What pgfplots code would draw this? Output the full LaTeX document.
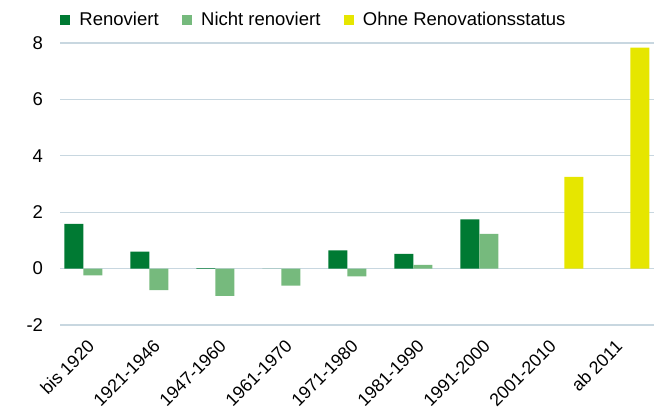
\documentclass[border=0pt]{standalone}
\usepackage{pgfplots}
\pgfplotsset{compat=1.18}
\usepackage{fontspec}
\setmainfont{Liberation Sans}

\definecolor{renov}{RGB}{0,122,51}
\definecolor{nichtrenov}{RGB}{118,186,125}
\definecolor{ohne}{RGB}{230,230,0}
\definecolor{gridc}{RGB}{200,215,224}

\begin{document}
\begin{tikzpicture}[x=0.6pt,y=0.6pt]
  \begin{axis}[
      at={(0,0)}, anchor=south west,
      scale only axis,
      width=356.4pt, height=169.2pt,
      ybar=0pt,
      bar width=11.4pt,
      xmin=-0.5, xmax=8.5,
      ymin=-2, ymax=8,
      ytick={-2,0,2,4,6,8},
      xtick={0,1,2,3,4,5,6,7,8},
      xticklabels={bis 1920,1921-1946,1947-1960,1961-1970,1971-1980,1981-1990,1991-2000,2001-2010,ab 2011},
      axis line style={draw=none},
      major tick length=0pt,
      ymajorgrids=true,
      grid style={gridc, line width=0.8pt},
      font=\fontsize{11.1}{13}\selectfont,
      /pgf/number format/assume math mode=true,
      yticklabel style={inner sep=0pt, xshift=-10pt},
      xticklabel style={xshift=-4pt, yshift=-8pt, rotate=45, anchor=north east, inner sep=0pt,
          font=\fontsize{10.7}{12}\selectfont},
      legend columns=3,
      legend style={at={(0,1)}, anchor=west, yshift=13.8pt, draw=none, fill=none,
          inner sep=0pt, font=\fontsize{11.1}{13}\selectfont,
          /tikz/every even column/.append style={column sep=12pt}},
      legend cell align=left,
      legend image code/.code={\fill[#1] (0pt,-3pt) rectangle (6pt,3pt); \path (9.5pt,0pt);},
  ]
  \addplot[fill=renov, draw=none] coordinates {
      (0,1.59) (1,0.60) (2,0.02) (3,0) (4,0.65) (5,0.52) (6,1.75)
  };
  \addlegendentry{Renoviert}
  \addplot[fill=nichtrenov, draw=none] coordinates {
      (0,-0.24) (1,-0.76) (2,-0.97) (3,-0.60) (4,-0.28) (5,0.13) (6,1.23)
  };
  \addlegendentry{Nicht renoviert}
  \addplot[fill=ohne, draw=none] coordinates {
      (7,3.25) (8,7.84)
  };
  \addlegendentry{Ohne Renovationsstatus}
  \end{axis}
  \pgfresetboundingbox
  \path (-60,-83) rectangle (602,325);
\end{tikzpicture}
\end{document}
